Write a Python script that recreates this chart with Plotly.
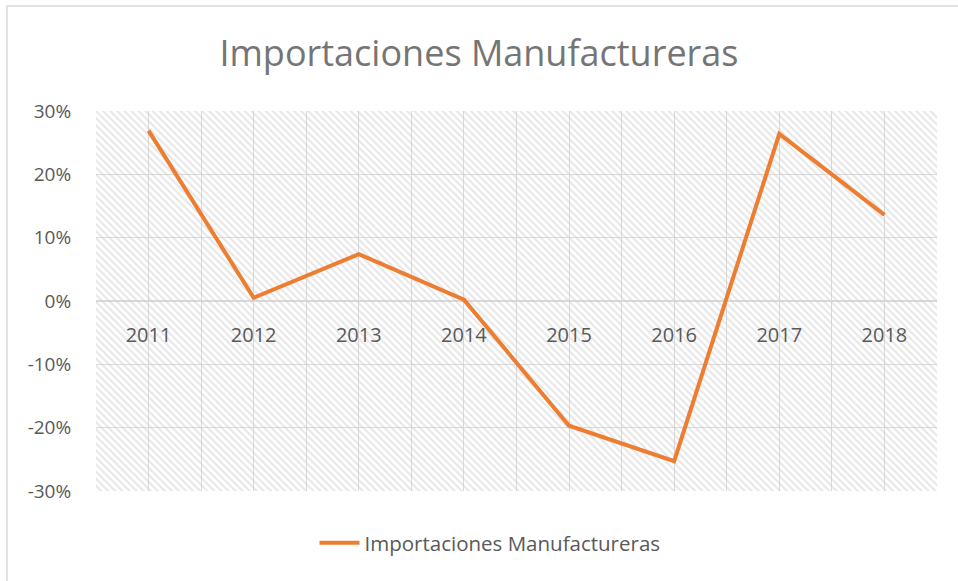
import plotly.graph_objects as go

years = ["2011", "2012", "2013", "2014", "2015", "2016", "2017", "2018"]
values = [0.269, 0.005, 0.074, 0.002, -0.197, -0.253, 0.264, 0.136]
y_range = [-0.30, 0.30]
y_ticks = [-0.30, -0.20, -0.10, 0.0, 0.10, 0.20, 0.30]
y_ticktext = ["-30%", "-20%", "-10%", "0%", "10%", "20%", "30%"]

idx = list(range(len(years)))
boundaries = [i - 0.5 for i in range(len(years) + 1)]

FONT = "Open Sans"
TXT = "#595959"
GRID = "#d9d9d9"

fig = go.Figure()

# hatched plot-area background
fig.add_trace(go.Bar(
    x=idx,
    y=[y_range[1] - y_range[0]] * len(years),
    base=[y_range[0]] * len(years),
    width=1.0,
    marker=dict(
        color="rgba(0,0,0,0)",
        line=dict(width=0),
        pattern=dict(shape="\\", fgcolor="#d0d0d0", bgcolor="rgba(0,0,0,0)",
                     size=5, solidity=0.42, fillmode="overlay"),
    ),
    showlegend=False,
    hoverinfo="skip",
))

fig.add_trace(go.Scatter(
    x=idx,
    y=values,
    mode="lines",
    name="Importaciones Manufactureras",
    line=dict(color="#ED7D31", width=4),
))

fig.update_layout(
    width=958,
    height=581,
    margin=dict(l=96, r=21, t=111, b=90),
    paper_bgcolor="white",
    plot_bgcolor="white",
    bargap=0,
    title=dict(
        text="Importaciones Manufactureras",
        x=0.5, xanchor="center",
        y=1 - 53 / 581, yanchor="middle",
        font=dict(family=FONT, size=36, color="#757575"),
    ),
    font=dict(family=FONT, color=TXT),
    legend=dict(
        orientation="h",
        x=(490 - 96) / 841, xanchor="center",
        y=-52 / 380, yanchor="middle",
        font=dict(family=FONT, size=20.5, color=TXT),
        itemwidth=40,
    ),
    xaxis=dict(
        range=[-0.5, len(years) - 0.5],
        tickmode="array",
        tickvals=idx,
        ticktext=years,
        anchor="free",
        position=0.5,
        showgrid=True,
        gridcolor=GRID,
        gridwidth=1,
        showline=False,
        zeroline=False,
        ticks="outside",
        ticklen=16,
        tickcolor="rgba(0,0,0,0)",
        tickfont=dict(family=FONT, size=20, color=TXT),
        minor=dict(tickmode="array", tickvals=boundaries, showgrid=True,
                   gridcolor=GRID, gridwidth=1, ticks=""),
        fixedrange=True,
    ),
    yaxis=dict(
        range=y_range,
        tickmode="array",
        tickvals=y_ticks,
        ticktext=y_ticktext,
        showgrid=True,
        gridcolor=GRID,
        gridwidth=1,
        zeroline=True,
        zerolinecolor=GRID,
        zerolinewidth=1.5,
        showline=False,
        ticks="outside",
        ticklen=20,
        tickcolor="rgba(0,0,0,0)",
        tickfont=dict(family=FONT, size=19, color=TXT),
        domain=[0, 1],
    ),
    shapes=[
        dict(type="rect", xref="paper", yref="paper",
             x0=(7 - 96) / 841, x1=(975 - 96) / 841,
             y0=(491 - 600) / 380, y1=(491 - 6) / 380,
             line=dict(color="#d9d9d9", width=1.5), fillcolor="rgba(0,0,0,0)",
             layer="below"),
    ],
)

fig.write_html("out.html", config={"displayModeBar": False},
               post_script="document.body.style.margin='0px';")
